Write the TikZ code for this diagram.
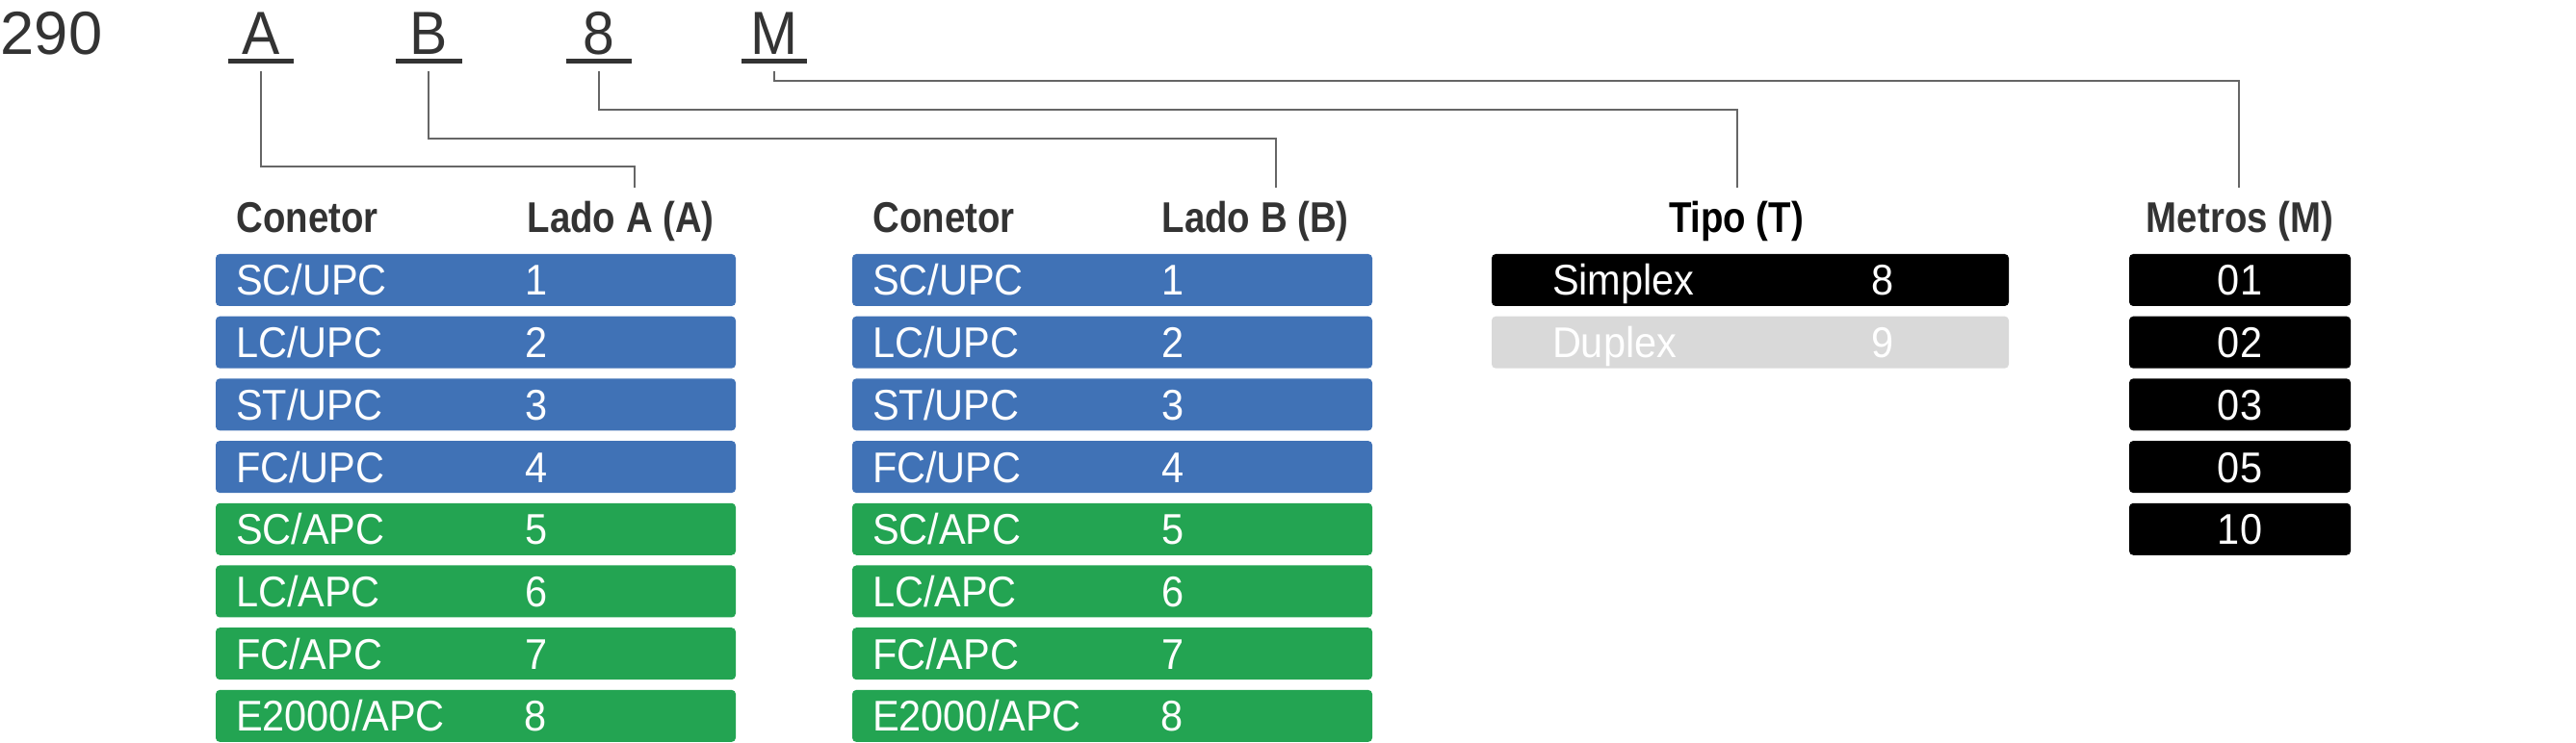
\documentclass[tikz,border=0pt]{standalone}
\usepackage{fontspec}
\setmainfont{Liberation Sans}
\newfontfamily\rowfont{Liberation Sans}[FakeStretch=0.93]
\newfontfamily\headfont{Liberation Sans}[FakeStretch=0.86]
\usepackage{xcolor}
\usetikzlibrary{positioning}
\definecolor{upcblue}{RGB}{64,114,182}
\definecolor{apcgreen}{RGB}{35,164,82}
\definecolor{duplexgray}{RGB}{217,217,217}
\definecolor{inkgray}{RGB}{51,51,51}
\definecolor{leadgray}{RGB}{102,102,102}
\newcommand{\conpair}[2]{\makebox[3cm][l]{#1}#2}
\newcommand{\tipopair}[2]{\makebox[3.31cm][l]{#1}#2}

\begin{document}
\begin{tikzpicture}[node distance=0.107cm,
    code/.style={inner sep=0pt, text=inkgray, font=\fontsize{18}{20}\selectfont, text height=12.9pt, text depth=0pt},
    letter/.style={code, font=\rowfont\fontsize{18}{20}\selectfont, minimum width=0.67cm},
    uline/.style={inkgray, line width=1.4pt},
    leader/.style={leadgray, line width=0.6pt},
    head/.style={inner sep=0pt, anchor=base west, text=inkgray, font=\headfont\bfseries\fontsize{12.7}{15}\selectfont},
    cell/.style={inner ysep=0pt, outer sep=0pt, rounded corners=1.2pt, minimum height=0.54cm, text=white, text height=9.1pt, text depth=0pt, font=\rowfont\fontsize{12.7}{15}\selectfont},
    conrow/.style={cell, minimum width=5.4cm, inner xsep=0.21cm, text width=4.98cm},
    upc/.style={conrow, fill=upcblue},
    apc/.style={conrow, fill=apcgreen},
    tiporow/.style={cell, minimum width=5.37cm, inner xsep=0.63cm, text width=4.11cm},
    metrow/.style={cell, minimum width=2.3cm, fill=black}]
                \useasboundingbox (0,0) rectangle (26.75,-7.72);
                % product code
                \node[code, anchor=base west] (num) at (0,-0.57) {290};
                \node[letter, anchor=base] (cA) at (2.71,-0.57) {A};
                \node[letter, right=1.06cm of cA] (cB) {B};
                \node[letter, right=1.08cm of cB] (c8) {8};
                \node[letter, right=1.14cm of c8] (cM) {M};
                \draw[uline] ([yshift=-0.06cm]cA.south west) -- ([yshift=-0.06cm]cA.south east);
                \draw[uline] ([yshift=-0.06cm]cB.south west) -- ([yshift=-0.06cm]cB.south east);
                \draw[uline] ([yshift=-0.06cm]c8.south west) -- ([yshift=-0.06cm]c8.south east);
                \draw[uline] ([yshift=-0.06cm]cM.south west) -- ([yshift=-0.06cm]cM.south east);
                % headers
                \node[head] (conA) at (2.45,-2.42) {Conetor};
                \node[head] (ladoA) at (5.47,-2.42) {Lado A (A)};
                \node[head] (conB) at (9.06,-2.42) {Conetor};
                \node[head] (ladoB) at (12.06,-2.42) {Lado B (B)};
                \node[head, anchor=base, text=black] (tipo) at (18.03,-2.42) {Tipo (T)};
                \node[head, anchor=base] (metros) at (23.26,-2.42) {Metros (M)};
                % side A
                \node[upc, anchor=north west] (a1) at (2.24,-2.64) {\conpair{SC/UPC}{1}};
                \node[upc, below=of a1] (a2) {\conpair{LC/UPC}{2}};
                \node[upc, below=of a2] (a3) {\conpair{ST/UPC}{3}};
                \node[upc, below=of a3] (a4) {\conpair{FC/UPC}{4}};
                \node[apc, below=of a4] (a5) {\conpair{SC/APC}{5}};
                \node[apc, below=of a5] (a6) {\conpair{LC/APC}{6}};
                \node[apc, below=of a6] (a7) {\conpair{FC/APC}{7}};
                \node[apc, below=of a7] (a8) {\conpair{E2000/APC}{8}};
                % side B
                \node[upc, anchor=north west] (b1) at (8.85,-2.64) {\conpair{SC/UPC}{1}};
                \node[upc, below=of b1] (b2) {\conpair{LC/UPC}{2}};
                \node[upc, below=of b2] (b3) {\conpair{ST/UPC}{3}};
                \node[upc, below=of b3] (b4) {\conpair{FC/UPC}{4}};
                \node[apc, below=of b4] (b5) {\conpair{SC/APC}{5}};
                \node[apc, below=of b5] (b6) {\conpair{LC/APC}{6}};
                \node[apc, below=of b6] (b7) {\conpair{FC/APC}{7}};
                \node[apc, below=of b7] (b8) {\conpair{E2000/APC}{8}};
                % type
                \node[tiporow, fill=black, anchor=north west] (t1) at (15.49,-2.64) {\tipopair{Simplex}{8}};
                \node[tiporow, fill=duplexgray, below=of t1] (t2) {\tipopair{Duplex}{9}};
                % metres
                \node[metrow, anchor=north west] (m1) at (22.11,-2.64) {01};
                \node[metrow, below=of m1] (m2) {02};
                \node[metrow, below=of m2] (m3) {03};
                \node[metrow, below=of m3] (m4) {05};
                \node[metrow, below=of m4] (m5) {10};
                % leaders
                \coordinate (eA) at (6.59,-1.95);
                \coordinate (eB) at (13.25,-1.95);
                \coordinate (e8) at (18.04,-1.95);
                \coordinate (eM) at (23.25,-1.95);
                \draw[leader] ([yshift=-0.16cm]cA.south) -- ++(0,-0.99) -| (eA);
                \draw[leader] ([yshift=-0.16cm]cB.south) -- ++(0,-0.70) -| (eB);
                \draw[leader] ([yshift=-0.16cm]c8.south) -- ++(0,-0.40) -| (e8);
                \draw[leader] ([yshift=-0.16cm]cM.south) -- ++(0,-0.10) -| (eM);
            \end{tikzpicture}
\end{document}
